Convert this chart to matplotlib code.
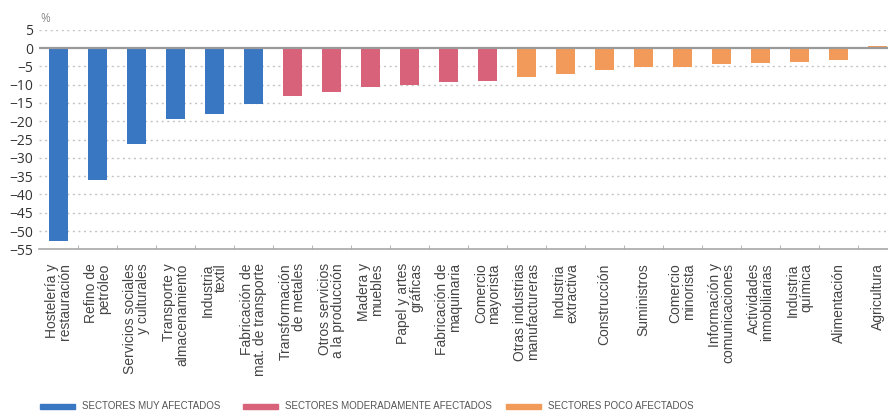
import matplotlib.pyplot as plt
from matplotlib.patches import Rectangle

sectores = [
    'Hostelería y\nrestauración', 'Refino de\npetróleo', 'Servicios sociales\ny culturales',
    'Transporte y\nalmacenamiento', 'Industria\ntextil', 'Fabricación de\nmat. de transporte',
    'Transformación\nde metales', 'Otros servicios\na la producción', 'Madera y\nmuebles',
    'Papel y artes\ngráficas', 'Fabricación de\nmaquinaria', 'Comercio\nmayorista',
    'Otras industrias\nmanufactureras', 'Industria\nextractiva', 'Construcción',
    'Suministros', 'Comercio\nminorista', 'Información y\ncomunicaciones',
    'Actividades\ninmobiliarias', 'Industria\nquímica', 'Alimentación', 'Agricultura',
]
variacion = [-52.6, -36.2, -26.1, -19.3, -18.1, -15.3,
             -13.0, -11.9, -10.6, -10.0, -9.3, -9.0,
             -7.8, -7.1, -6.0, -5.1, -5.1, -4.5, -4.2, -3.8, -3.2, 0.5]
grupo = ['muy'] * 6 + ['moderado'] * 6 + ['poco'] * 10

colores = {'muy': '#3a77c2', 'moderado': '#d8627a', 'poco': '#f29a5a'}
leyenda = {'muy': 'SECTORES MUY AFECTADOS',
           'moderado': 'SECTORES MODERADAMENTE AFECTADOS',
           'poco': 'SECTORES POCO AFECTADOS'}

W, H = 888, 416
fig = plt.figure(figsize=(W / 100, H / 100), dpi=100)
ax = fig.add_axes([0.0439, 0.4007, 0.9561, 0.5279])

x = list(range(len(sectores)))
ax.bar(x, variacion, width=0.49, color=[colores[g] for g in grupo], zorder=3)

ax.set_xlim(-0.5, 21.27)
ax.set_ylim(-55, 5)
ax.set_yticks(range(-55, 10, 5))
for v in range(-50, 10, 5):
    if v != 0:
        ax.axhline(v, color='#c4c4c4', lw=1.0, ls=(0, (1.5, 2.5)), zorder=1)
ax.axhline(0, color='#9a9a9a', lw=1.6, zorder=4)

for s in ['top', 'right', 'left']:
    ax.spines[s].set_visible(False)
ax.spines['bottom'].set_color('#a8a8a8')
ax.spines['bottom'].set_linewidth(1.2)

ax.tick_params(axis='y', length=0, pad=4, labelsize=10, labelcolor='#333333')
for t in ax.get_yticklabels():
    t.set_family('Open Sans')

ax.set_xticks([i + 0.5 for i in x[:-1]], minor=True)
ax.tick_params(axis='x', which='minor', direction='in', length=3, color='#a8a8a8')
ax.set_xticks(x)
ax.set_xticklabels(sectores, rotation=90, ha='center', va='top', fontsize=10,
                   family='Liberation Sans', color='#444444', linespacing=0.95,
                   multialignment='right')
ax.tick_params(axis='x', which='major', length=0, pad=10)

fig.text(0.045, 0.955, '%', fontsize=8.5, color='#888888', family='Open Sans', va='center')

# leyenda dibujada a mano: barra de color + texto
for g, x0 in zip(['muy', 'moderado', 'poco'], [40, 243, 506]):
    fig.add_artist(Rectangle((x0 / W, 1 - 408.5 / H), 35 / W, 5 / H,
                             transform=fig.transFigure, color=colores[g]))
    fig.text((x0 + 42) / W, 1 - 406 / H, leyenda[g], fontsize=7, color='#555555',
             family='Liberation Sans', va='center', ha='left')

fig.savefig('out.png', dpi=100)
